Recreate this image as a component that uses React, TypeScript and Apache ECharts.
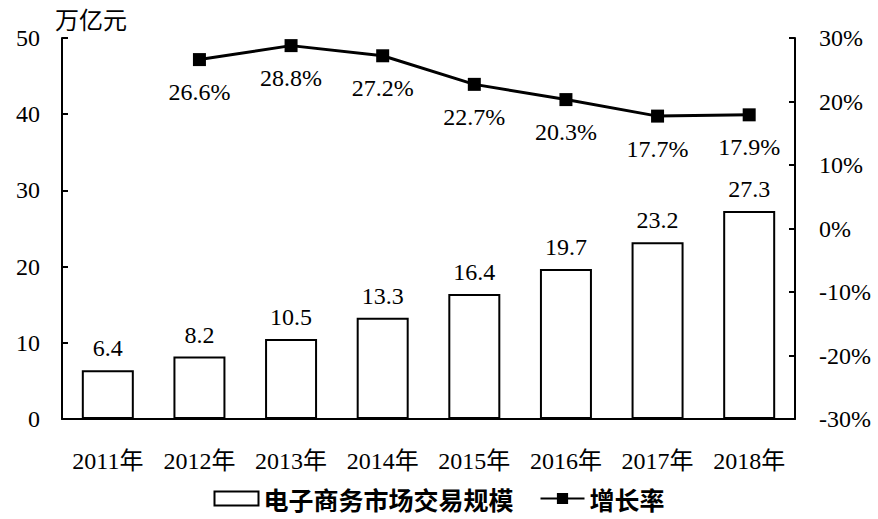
import React, { useEffect, useRef } from "react";
import * as echarts from "echarts";

const categories = ["2011年", "2012年", "2013年", "2014年", "2015年", "2016年", "2017年", "2018年"];
const scaleValues = [6.4, 8.2, 10.5, 13.3, 16.4, 19.7, 23.2, 27.3];
const growthValues: (number | null)[] = [null, 26.6, 28.8, 27.2, 22.7, 20.3, 17.7, 17.9];
const barName = "电子商务市场交易规模";
const lineName = "增长率";
const unitLabel = "万亿元";

const SERIF = "'Liberation Serif', 'Times New Roman', 'Noto Sans CJK SC', serif";
const CJK = "'Noto Sans CJK SC', sans-serif";
const FS = 24;

export default function App() {
  const ref = useRef<HTMLDivElement>(null);
  useEffect(() => {
    document.body.style.margin = "0";
    if (!ref.current) return;
    const chart = echarts.init(ref.current, null, { renderer: "svg" });
    chart.setOption({
      animation: false,
      backgroundColor: "#ffffff",
      textStyle: { fontFamily: SERIF, color: "#000" },
      grid: { left: 62, right: 83, top: 38, bottom: 100 },
      graphic: [
        {
          type: "text",
          left: 55,
          top: 9,
          style: { text: unitLabel, font: `24px ${SERIF}`, fill: "#000" },
        },
      ],
      legend: {
        bottom: 3,
        left: "center",
        itemGap: 26,
        itemWidth: 44,
        itemHeight: 14,
        textStyle: { fontFamily: CJK, fontWeight: "bold", fontSize: 25, color: "#000" },
        data: [
          { name: barName, icon: "rect", itemStyle: { color: "#fff", borderColor: "#000", borderWidth: 2 } },
          { name: lineName },
        ],
      },
      xAxis: {
        type: "category",
        data: categories,
        axisLine: { lineStyle: { color: "#000", width: 2 } },
        axisTick: { inside: true, length: 6, lineStyle: { color: "#000", width: 2 } },
        axisLabel: { interval: 0, fontFamily: SERIF, fontSize: FS, color: "#000", margin: 30 },
      },
      yAxis: [
        {
          type: "value",
          min: 0,
          max: 50,
          interval: 10,
          splitLine: { show: false },
          axisLine: { show: true, lineStyle: { color: "#000", width: 2 } },
          axisTick: { show: true, inside: true, length: 6, lineStyle: { color: "#000", width: 2 } },
          axisLabel: { fontFamily: SERIF, fontSize: FS, color: "#000", margin: 22 },
        },
        {
          type: "value",
          min: -30,
          max: 30,
          interval: 10,
          position: "right",
          splitLine: { show: false },
          axisLine: { show: true, lineStyle: { color: "#000", width: 2 } },
          axisTick: { show: true, inside: true, length: 6, lineStyle: { color: "#000", width: 2 } },
          axisLabel: { fontFamily: SERIF, fontSize: FS, color: "#000", margin: 24, formatter: "{value}%" },
        },
      ],
      series: [
        {
          name: barName,
          type: "bar",
          data: scaleValues,
          barWidth: 52,
          itemStyle: { color: "#fff", borderColor: "#000", borderWidth: 2 },
          label: {
            show: true,
            position: "top",
            distance: 10,
            fontFamily: SERIF,
            fontSize: FS,
            color: "#000",
          },
        },
        {
          name: lineName,
          type: "line",
          yAxisIndex: 1,
          data: growthValues,
          symbol: "rect",
          symbolSize: 13,
          lineStyle: { color: "#000", width: 3 },
          itemStyle: { color: "#000" },
          label: {
            show: true,
            position: "bottom",
            distance: 14,
            fontFamily: SERIF,
            fontSize: FS,
            color: "#000",
            formatter: (p: any) => `${p.value}%`,
          },
        },
      ],
    });
    return () => chart.dispose();
  }, []);
  return <div ref={ref} style={{ width: 878, height: 519 }} />;
}
